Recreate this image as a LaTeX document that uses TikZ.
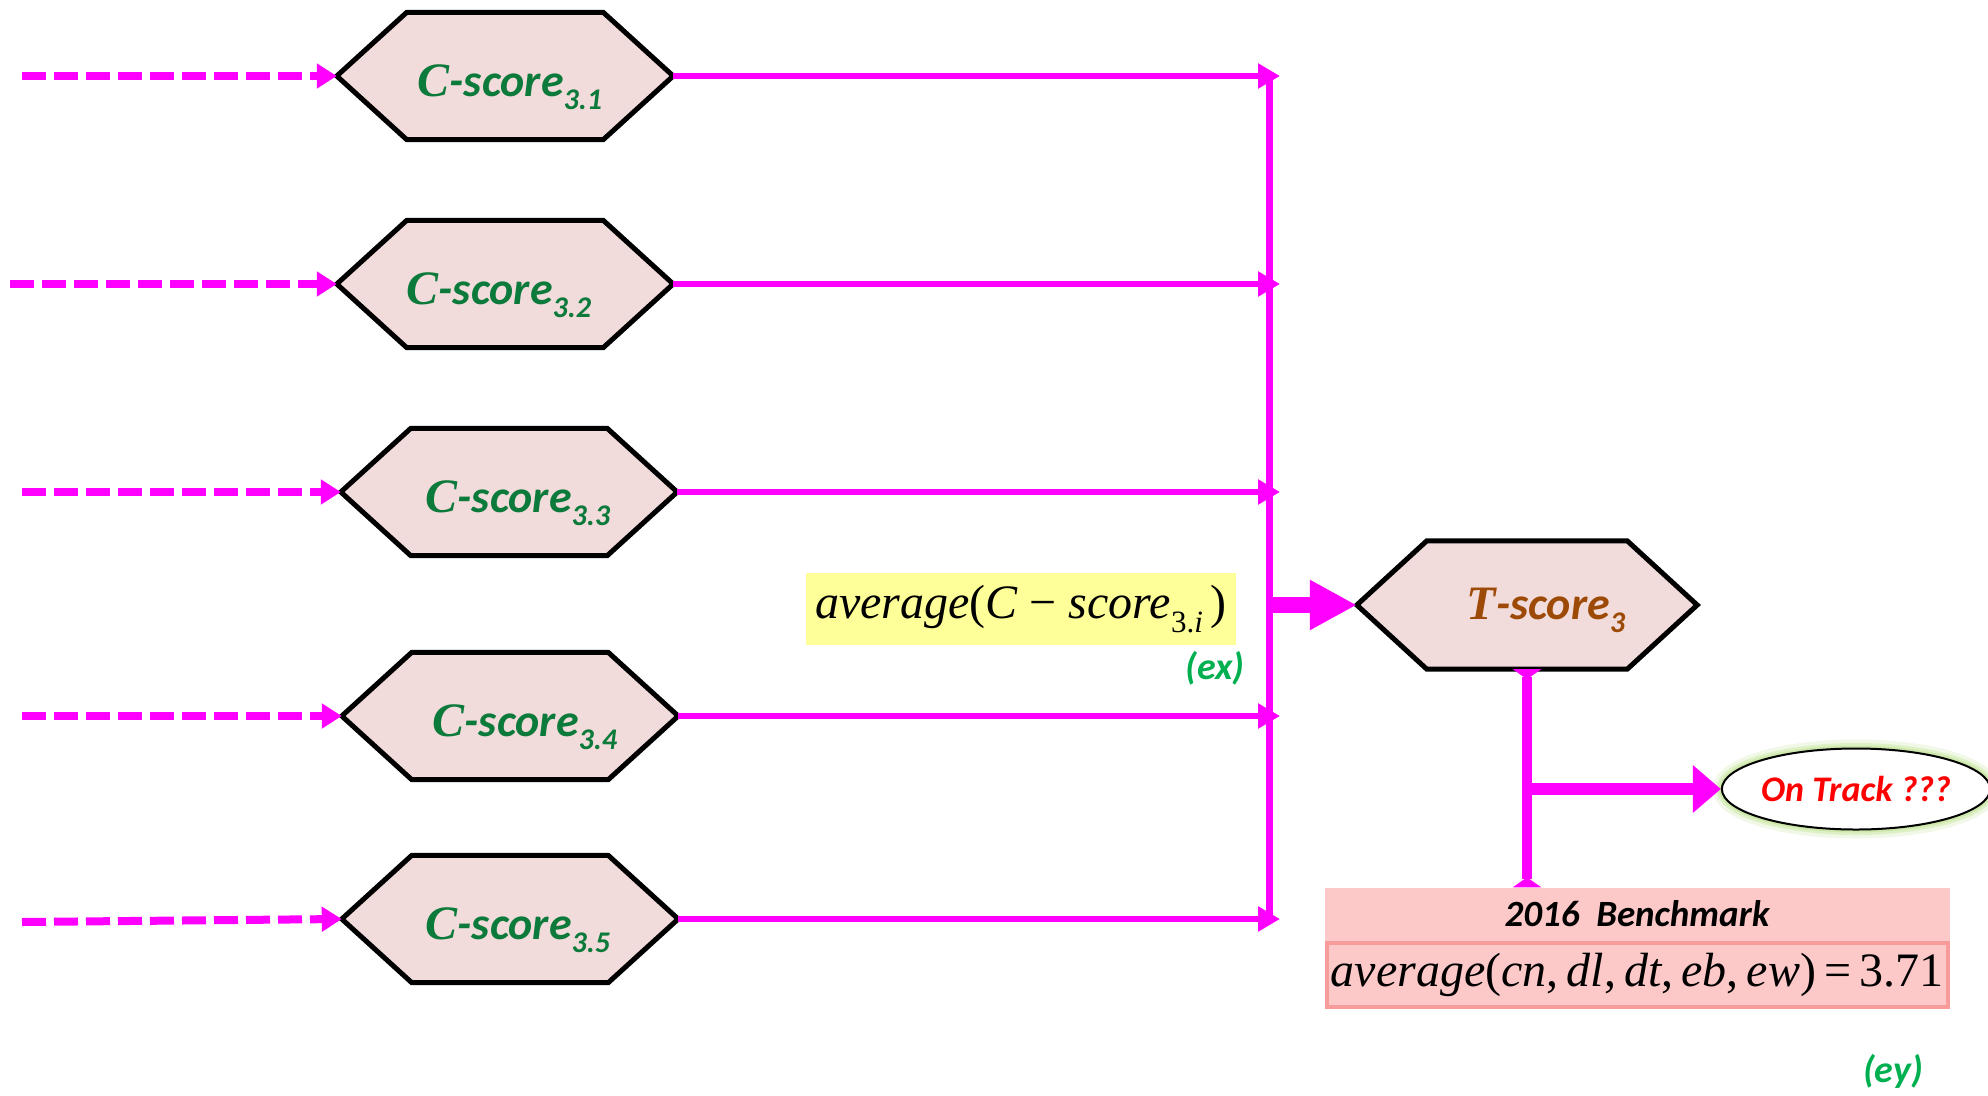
\documentclass[tikz,border=0pt]{standalone}
\usepackage{fontspec}
\setmainfont{Carlito}
\newfontfamily\tnr{Liberation Serif}
\usetikzlibrary{arrows.meta,backgrounds,calc,shapes.geometric}
\definecolor{mag}{HTML}{FF00FF}
\definecolor{hexfill}{HTML}{F2DCDB}
\definecolor{cgreen}{HTML}{0B7A3A}
\definecolor{lgreen}{HTML}{00B050}
\definecolor{tbrown}{HTML}{9C4A06}
\definecolor{bpink}{HTML}{FDC8C8}
\definecolor{bborder}{HTML}{F89B9B}
\definecolor{ylw}{HTML}{FFFF99}
\definecolor{glowc}{HTML}{C6E59E}
\newcommand\hexlabel[3]{\hspace*{#3}{\tnr\fontsize{48}{50}\selectfont #1}-score\raisebox{-0.3em}{\fontsize{30}{32}\selectfont #2}}
\tikzset{
  hexnode/.style={rectangle, minimum width=336pt, minimum height=127pt, inner sep=0pt,
    text height=50pt, text depth=10pt,
    text=cgreen, font=\fontsize{46}{50}\selectfont\bfseries\itshape},
  hexshape/.style={fill=hexfill, draw=black, line width=5pt, line join=miter},
  dashin/.style={draw=mag, line width=8pt, dash pattern=on 24pt off 8pt,
    -{Triangle[length=20pt,width=24pt]}},
  outline/.style={draw=mag, line width=6pt, -{Triangle[length=22pt,width=24pt]}},
  busline/.style={draw=mag, line width=7pt},
  bigarrow/.style={draw=mag, line width=16pt, -{Triangle[length=47pt,width=47pt]}},
  downline/.style={draw=mag, line width=10pt,
    {Triangle[reversed,length=10pt,width=28pt]}-{Triangle[reversed,length=10pt,width=28pt]}},
  brarrow/.style={draw=mag, line width=12pt, -{Triangle[length=28pt,width=46pt]}},
  tag/.style={text=lgreen, font=\fontsize{38}{42}\selectfont\bfseries\itshape},
}
\begin{document}
\begin{tikzpicture}[x=1pt,y=-1pt]
\useasboundingbox (0,0) rectangle (1988,1095);
% C-score nodes
\node[hexnode] (c1) at (505,76)  {\hexlabel{C}{3.1}{10pt}};
\node[hexnode] (c2) at (505,284) {\hexlabel{C}{3.2}{-12pt}};
\node[hexnode] (c3) at (509,492) {\hexlabel{C}{3.3}{18pt}};
\node[hexnode] (c4) at (510,716) {\hexlabel{C}{3.4}{30pt}};
\node[hexnode] (c5) at (510,919) {\hexlabel{C}{3.5}{16pt}};
% T-score node
\node[hexnode, minimum width=340pt, minimum height=128pt, text=tbrown, text height=38pt, text depth=10pt] (t) at (1527,605) {\hexlabel{T}{3}{38pt}};
% hexagon outlines
\begin{scope}[on background layer]
\foreach \n in {c1,c2,c3,c4,c5,t}{
  \path[hexshape] (\n.west) -- ($(\n.north west)+(70,0)$) -- ($(\n.north east)+(-70,0)$)
    -- (\n.east) -- ($(\n.south east)+(-70,0)$) -- ($(\n.south west)+(70,0)$) -- cycle;
}
\end{scope}
% input coordinates
\coordinate (i1) at (22,76);
\coordinate (i2) at (10,284);
\coordinate (i3) at (22,492);
\coordinate (i4) at (22,716);
\coordinate (i5) at (22,922);
\foreach \k in {1,...,5}{ \draw[dashin] (i\k) -- (c\k.west); }
% bus
\coordinate (bt) at (1269,76);
\coordinate (bb) at (1269,919);
\draw[busline] (bt) -- (bb);
\coordinate (ox) at (1280,0);
\foreach \k in {1,...,5}{
  \draw[outline] (c\k.east) -- (ox |- c\k.east);
}
% big arrow into T-score
\draw[bigarrow] (bt |- t.west) -- (t.west);
% yellow formula
\node[fill=ylw, minimum width=430pt, minimum height=72pt, inner sep=0pt,
  font=\fontsize{48}{52}\selectfont\tnr] (avg) at (1021,609)
  {\itshape average\upshape(\itshape C\upshape\ −\ \itshape score\raisebox{-0.3em}{\fontsize{31}{32}\selectfont\upshape 3.\itshape i}\upshape\,)};
\node[tag] (ex) at (1215,668) {(ex)};
% On track ellipse
\node[ellipse, minimum width=264pt, minimum height=81pt, inner sep=0pt, fill=white, draw=black, line width=2pt,
  preaction={draw=glowc, line width=18pt, opacity=0.25},
  preaction={draw=glowc, line width=11pt, opacity=0.45},
  preaction={draw=glowc, line width=6pt, opacity=0.7},
  text=red, font=\fontsize{36}{40}\selectfont\bfseries\itshape] (ot) at (1856,789) {On Track ???};
% benchmark
\node[fill=bpink, minimum width=625pt, minimum height=53pt, inner sep=0pt,
  font=\fontsize{37}{42}\selectfont\bfseries\itshape] (bm) at (1637,914) {2016\ \ Benchmark};
\node[fill=bpink, draw=bborder, line width=4pt, minimum width=621pt, minimum height=64pt, inner sep=0pt,
  font=\fontsize{48}{52}\selectfont\tnr] (bf) at (1637,975)
  {\itshape average\upshape(\itshape cn\upshape,\,\itshape dl\upshape,\,\itshape dt\upshape,\,\itshape eb\upshape,\,\itshape ew\upshape)\,=\,3.71};
\node[tag] (ey) at (1893,1071) {(ey)};
% down line and branch
\draw[downline] (t.south) -- (t.south |- bm.north);
\coordinate (br) at (t.south |- ot.west);
\draw[brarrow] (br) -- (ot.west);
\end{tikzpicture}
\end{document}
